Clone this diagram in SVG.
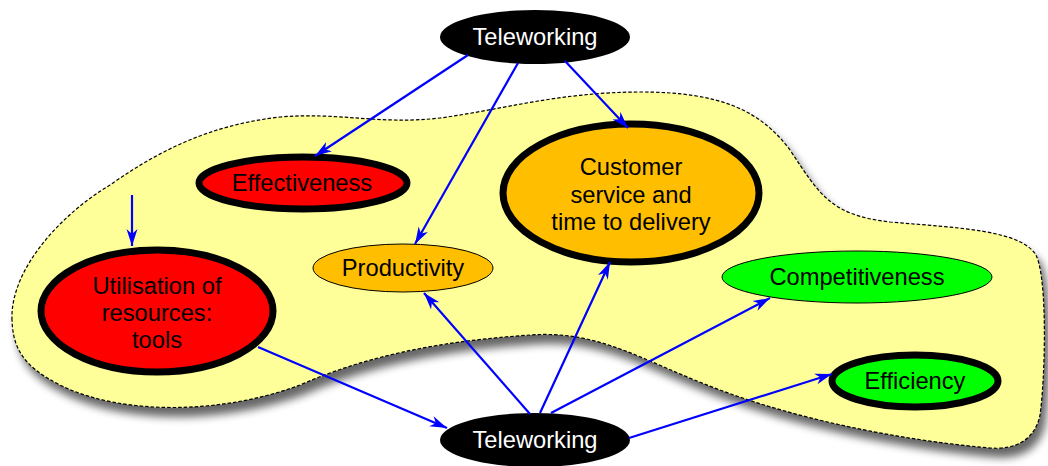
<svg xmlns="http://www.w3.org/2000/svg" width="1048" height="466" viewBox="0 0 1048 466">
<style>
text{font-family:"Liberation Sans",Arial,sans-serif;font-size:23.7px;text-anchor:middle;dominant-baseline:central}
.tw{fill:#000;stroke:none}
.tw+text{fill:#fff}
.thick{stroke:#000;stroke-width:7}
.thin{stroke:#000;stroke-width:1}
.red{fill:#ff0000}
.org{fill:#ffbf00}
.grn{fill:#00ff00}
.edge{fill:none;stroke:#0000ff;stroke-width:2.2;marker-end:url(#ah)}
</style>
<defs>
<filter id="sh" x="-10%" y="-10%" width="130%" height="140%">
<feGaussianBlur in="SourceAlpha" stdDeviation="4"/>
<feOffset dx="5" dy="9" result="b"/>
<feComponentTransfer><feFuncA type="linear" slope="0.6"/></feComponentTransfer>
<feMerge><feMergeNode/><feMergeNode in="SourceGraphic"/></feMerge>
</filter>
<marker id="ah" markerWidth="18" markerHeight="12" refX="17" refY="6" orient="auto" markerUnits="userSpaceOnUse">
<path d="M0,0.5 L17,6 L0,11.5 L5,6 Z" fill="#0000ff"/>
</marker>
</defs>
<g id="region">
<path d="M12,320 C10,270 60,215 110,185 C160,150 210,125 280,117 C340,112 380,125 440,118 C500,110 560,92 640,92 C720,92 760,110 790,150 C820,195 830,215 890,222 C960,228 1020,230 1036,255 C1048,280 1045,380 1040,415 C1035,440 1015,450 990,448 C900,440 800,420 720,390 C640,360 600,330 530,335 C460,340 380,350 300,385 C220,415 120,415 60,385 C20,365 13,345 12,320 Z" fill="#ffff99" stroke="#000" stroke-width="1.2" stroke-dasharray="3.5,2" filter="url(#sh)"/>
</g>
<g id="n-effectiveness"><ellipse class="red thick" cx="303" cy="183" rx="104" ry="26"/><text x="302" y="183">Effectiveness</text></g>
<g id="n-utilisation"><ellipse class="red thick" cx="157" cy="311" rx="116" ry="61"/><text x="157" y="286">Utilisation of</text><text x="157" y="313">resources:</text><text x="157" y="340">tools</text></g>
<g id="n-productivity"><ellipse class="org thin" cx="403" cy="268" rx="90" ry="24"/><text x="403" y="268">Productivity</text></g>
<g id="n-customer"><ellipse class="org thick" cx="631" cy="193" rx="128" ry="69"/><text x="631" y="167">Customer</text><text x="631" y="195">service and</text><text x="631" y="222">time to delivery</text></g>
<g id="n-competitiveness"><ellipse class="grn thin" cx="857" cy="277" rx="135" ry="26"/><text x="857" y="277">Competitiveness</text></g>
<g id="n-efficiency"><ellipse class="grn thick" cx="915" cy="381" rx="83" ry="26"/><text x="915" y="381">Efficiency</text></g>
<g id="n-tele-top"><ellipse class="tw" cx="535" cy="37" rx="95" ry="27"/><text x="535" y="37">Teleworking</text></g>
<g id="n-tele-bottom"><ellipse class="tw" cx="535" cy="440" rx="95" ry="27"/><text x="535" y="440">Teleworking</text></g>
<g id="connectors">
<path class="edge" d="M468,55 L315,156"/>
<path class="edge" d="M518,63 L415,244"/>
<path class="edge" d="M565,61 L628,128"/>
<path class="edge" d="M132,195 L132,246"/>
<path class="edge" d="M258,347 L447,428"/>
<path class="edge" d="M530,414 L424,293"/>
<path class="edge" d="M540,413 L610,262"/>
<path class="edge" d="M551,413 L770,298"/>
<path class="edge" d="M629,438 L832,374"/>
</g>
</svg>
